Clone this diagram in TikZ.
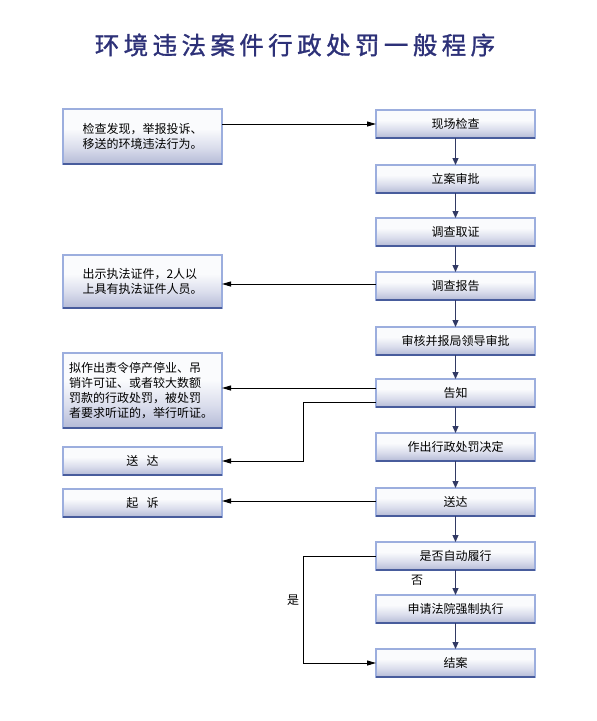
\documentclass[tikz,border=0pt]{standalone}
\usepackage{fontspec}
\newfontfamily\cjk{Noto Sans CJK SC}
\newfontfamily\titlefont[LetterSpace=18, FakeBold=1.2]{Noto Sans CJK SC}
\usetikzlibrary{arrows.meta,calc}
\definecolor{boxbot}{RGB}{180,186,214}
\definecolor{boxmid}{RGB}{218,221,236}
\definecolor{boxtop}{RGB}{250,251,253}
\definecolor{boxedge}{RGB}{156,174,222}
\definecolor{boxedgedark}{RGB}{72,92,156}
\definecolor{navy}{RGB}{50,58,100}
\definecolor{titleblue}{RGB}{45,49,120}
\pgfdeclareverticalshading{boxshade}{100bp}{color(0bp)=(boxbot); color(25bp)=(boxbot); color(40bp)=(boxmid); color(57bp)=(boxtop); color(100bp)=(boxtop)}
\tikzset{
  box/.style={shading=boxshade, draw=boxedge, line width=1.4pt, outer sep=0pt,
    minimum width=159pt, minimum height=28pt, inner sep=2pt,
    font=\cjk\fontsize{12}{15}\selectfont, text=black},
  vline/.style={draw=navy, line width=1.2pt, -{Triangle[length=7pt,width=6pt]}},
  hline/.style={draw=black, line width=1pt, -{Triangle[length=9pt,width=5pt]}},
  botline/.style={draw=boxedgedark, line width=2pt},
  lbl/.style={font=\cjk\fontsize{12}{15}\selectfont, text=black, inner sep=0pt}
}
\begin{document}
\begin{tikzpicture}[x=1pt,y=-1pt]
\useasboundingbox (0,0) rectangle (597,721);
\node[font=\titlefont\fontsize{24.5}{28}\selectfont, text=titleblue] (title) at (295,45) {环境违法案件行政处罚一般程序};
% right column
\node[box] (xc) at (455.5,124) {现场检查};
\node[box] (la) at (455.5,179) {立案审批};
\node[box] (dq) at (455.5,232) {调查取证};
\node[box] (db) at (455.5,286) {调查报告};
\node[box] (sh) at (455.5,341) {审核并报局领导审批};
\node[box] (gz) at (455.5,393) {告知};
\node[box] (zc) at (455.5,447) {作出行政处罚决定};
\node[box] (sdR) at (455.5,502) {送达};
\node[box] (sf) at (455.5,556) {是否自动履行};
\node[box] (sq) at (455.5,609) {申请法院强制执行};
\node[box] (ja) at (455.5,663) {结案};
% left column
\node[box, minimum height=55pt, align=left] (jc) at (142.5,136.5) {检查发现，举报投诉、\\移送的环境违法行为。};
\node[box, minimum height=53pt, align=left] (cs) at (142.5,281.5) {出示执法证件，2人以\\上具有执法证件人员。};
\node[box, minimum height=75pt, align=left, text width=147pt, inner xsep=6pt] (nz) at (142.5,390.5) {拟作出责令停产停业、吊\\销许可证、或者较大数额\\罚款的行政处罚，被处罚\\者要求听证的，举行听证。};
\node[box] (sdL) at (142.5,461) {送\hspace{0.7em}达};
\node[box] (qs) at (142.5,503) {起\hspace{0.7em}诉};
% bottom edges
\foreach \n in {xc,la,dq,db,sh,gz,zc,sdR,sf,sq,ja,jc,cs,nz,sdL,qs}
  \draw[botline] (\n.south west) -- (\n.south east);
% vertical arrows
\draw[vline] (xc) -- (la);
\draw[vline] (la) -- (dq);
\draw[vline] (dq) -- (db);
\draw[vline] (db) -- (sh);
\draw[vline] (sh) -- (gz);
\draw[vline] (gz) -- (zc);
\draw[vline] (zc) -- (sdR);
\draw[vline] (sdR) -- (sf);
\draw[vline] (sf) -- (sq);
\draw[vline] (sq) -- (ja);
% horizontal arrows
\draw[hline] (jc.east |- xc.west) -- (xc.west);
\draw[hline] ([yshift=2pt]db.west) -- ([yshift=2pt]db.west -| cs.east);
\draw[hline] ([yshift=5pt]gz.west) -- ([yshift=5pt]gz.west -| nz.east);
\draw[hline] ([yshift=-9pt]gz.west) -- ++(-73,0) |- (sdL.east);
\draw[hline] ([yshift=1pt]sdR.west) -- ([yshift=1pt]sdR.west -| qs.east);
\draw[hline] (sf.west) -- ++(-73,0) |- (ja.west);
% labels
\node[lbl] (yes) at (293,600) {是};
\node[lbl] (no) at (417,580) {否};
\end{tikzpicture}
\end{document}
